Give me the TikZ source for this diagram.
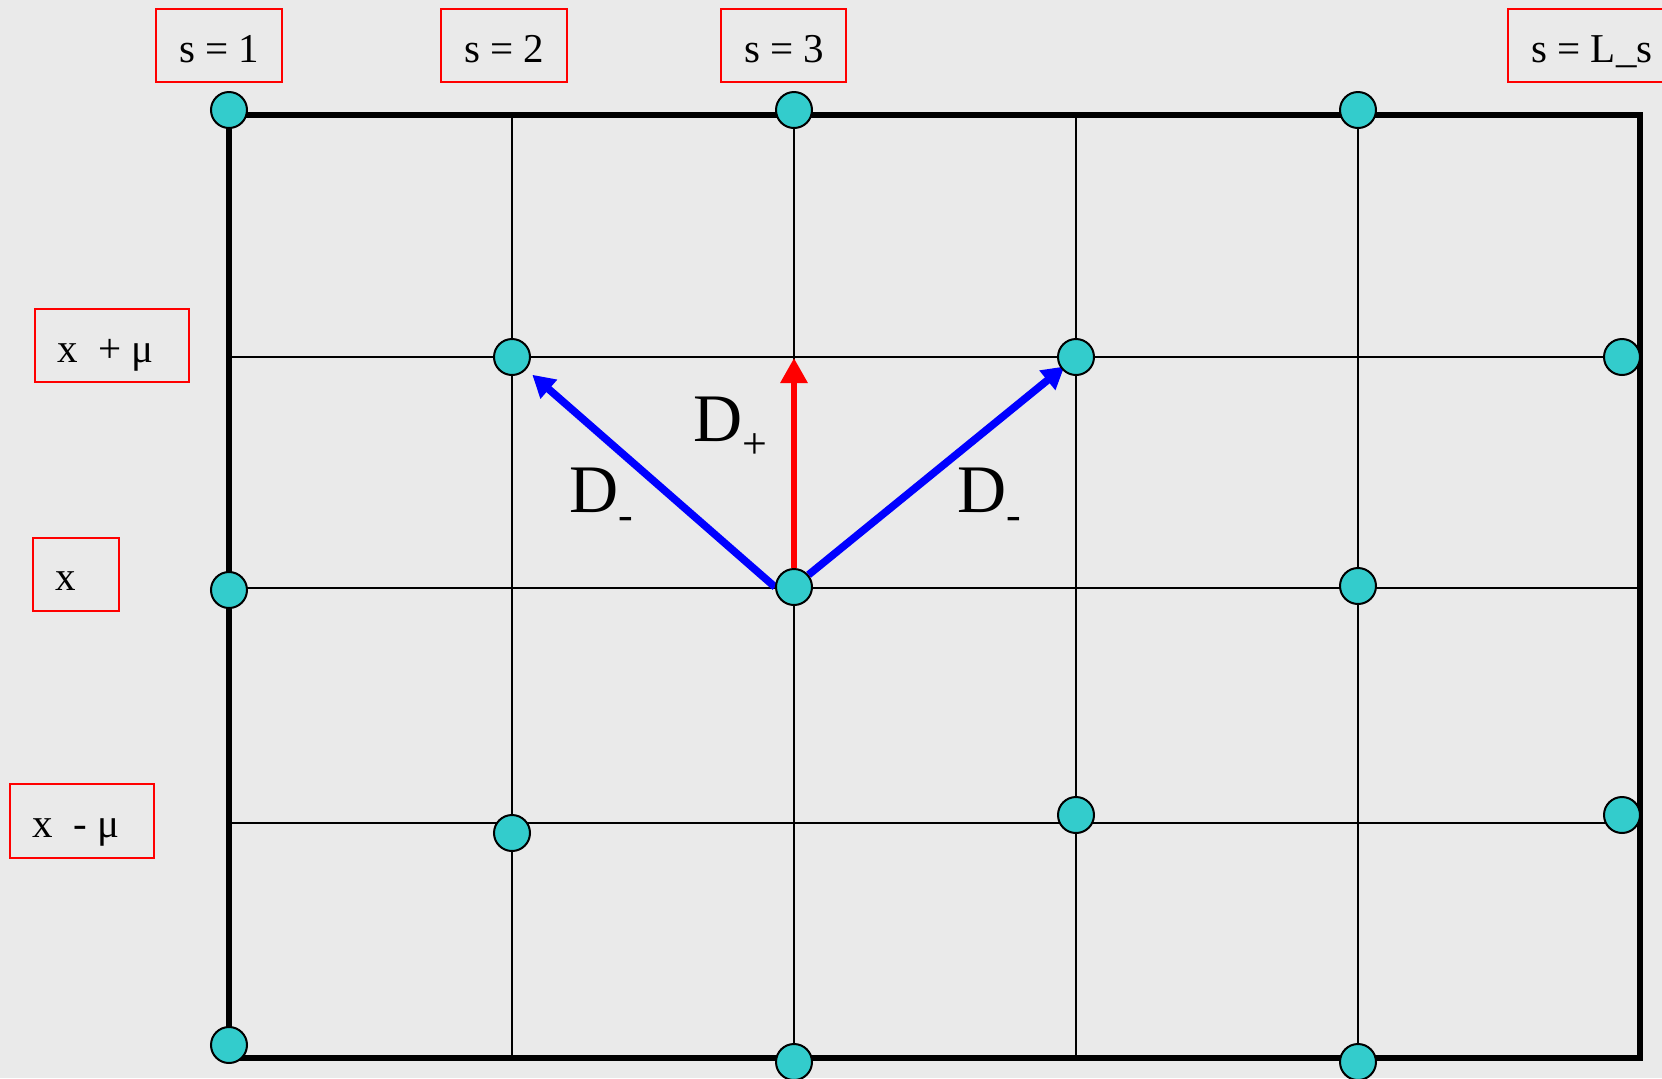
\documentclass[tikz,border=0pt]{standalone}
\usepackage{fontspec}
\setmainfont{Liberation Serif}
\usetikzlibrary{arrows.meta,calc}
\definecolor{bgc}{RGB}{234,234,234}
\definecolor{sitec}{RGB}{51,204,204}
\pgfdeclarelayer{bglayer}
\pgfdeclarelayer{midlayer}
\pgfsetlayers{bglayer,midlayer,main}
\begin{document}
\begin{tikzpicture}[x=0.5pt,y=-0.5pt,
  site/.style={circle, draw=black, line width=1pt, fill=sitec, minimum size=18pt, inner sep=0pt},
  lblbox/.style={draw=red, line width=1pt, inner sep=0pt, minimum height=36.5pt},
  lbltext/.style={anchor=base west, inner sep=0pt, font=\fontsize{20.5}{24}\selectfont},
  dtext/.style={anchor=base west, inner sep=0pt, font=\fontsize{34}{40}\selectfont},
  gridline/.style={line width=1pt},
  framel/.style={line width=3.2pt},
  redarr/.style={draw=red, line width=3pt, -{Triangle[length=12.5pt,width=13pt]}},
  bluearr/.style={draw=blue, line width=3.8pt, -{Triangle[length=11pt,width=12pt]}},
]
\begin{pgfonlayer}{bglayer}
\fill[bgc] (0,0) rectangle (1662,1078);
\foreach \xx in {512,794,1076,1358} \draw[gridline] (\xx,115) -- (\xx,1058);
\foreach \yy in {357,588,823} \draw[gridline] (229,\yy) -- (1640,\yy);
\draw[framel] (229,115) rectangle (1640,1058);
\end{pgfonlayer}
\useasboundingbox (0,0) rectangle (1662,1078);

% label boxes
\node[lblbox, minimum width=63pt] (bs1) at (219,45.5) {};
\node[lblbox, minimum width=63pt] (bs2) at (504,45.5) {};
\node[lblbox, minimum width=62.5pt] (bs3) at (783.5,45.5) {};
\node[lblbox, minimum width=86pt] (bsL) at (1594,45.5) {};
\node[lblbox, minimum width=77pt] (bxp) at (112,345.5) {};
\node[lblbox, minimum width=43pt] (bx) at (76,574.5) {};
\node[lblbox, minimum width=72pt, minimum height=37pt] (bxm) at (82,821) {};

\node[lbltext] (ts1) at (179,62) {s = 1};
\node[lbltext] (ts2) at (464,62) {s = 2};
\node[lbltext] (ts3) at (744,62) {s = 3};
\node[lbltext] (tsL) at (1531,62) {s = L\_s};
\node[lbltext] (txp) at (57,362) {x\ \ + μ};
\node[lbltext] (tx) at (55,590) {x};
\node[lbltext] (txm) at (32,837) {x\ \ - μ};

% sites
\node[site] (t1) at (229,110) {};
\node[site] (t3) at (794,110) {};
\node[site] (t5) at (1358,110) {};
\node[site] (u2) at (512,357) {};
\node[site] (u4) at (1076,357) {};
\node[site] (u6) at (1622,357) {};
\node[site] (m1) at (229,590) {};
\node[site] (m3) at (794,587) {};
\node[site] (m5) at (1358,586) {};
\node[site] (l2) at (512,833) {};
\node[site] (l4) at (1076,815) {};
\node[site] (l6) at (1622,815) {};
\node[site] (bt1) at (229,1045) {};
\node[site] (bt3) at (794,1062) {};
\node[site] (bt5) at (1358,1062) {};

% arrows (drawn beneath the sites)
\coordinate (p3) at (794,358);
\begin{pgfonlayer}{midlayer}
\draw[redarr] (m3) -- (p3);
\draw[bluearr, shorten >=4pt] (m3.west) -- (u2);
\draw[bluearr, shorten >=-2pt] (m3.40) -- (u4);
\end{pgfonlayer}

% D labels
\node[dtext] (dl) at (569,512) {D\raisebox{-8.5pt}{\fontsize{22}{22}\selectfont -}};
\node[dtext] (dp) at (693,441) {D\raisebox{-8.5pt}{\fontsize{22}{22}\selectfont +}};
\node[dtext] (dr) at (957,512) {D\raisebox{-8.5pt}{\fontsize{22}{22}\selectfont -}};
\end{tikzpicture}
\end{document}
